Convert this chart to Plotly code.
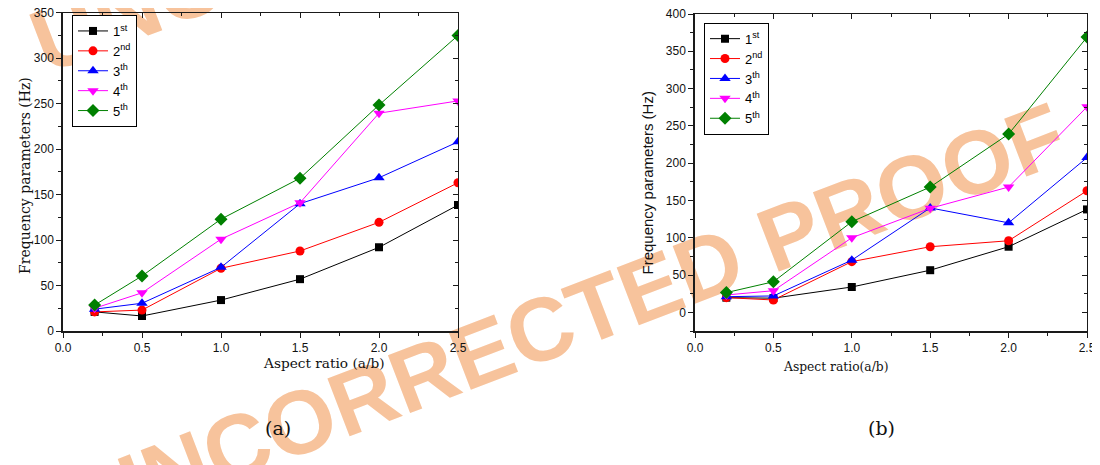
import plotly.graph_objects as go

# ---------------- data ----------------
aspect = [0.2, 0.5, 1.0, 1.5, 2.0, 2.5]
mode_labels = ["1<sup>st</sup>", "2<sup>nd</sup>", "3<sup>th</sup>", "4<sup>th</sup>", "5<sup>th</sup>"]

a_1st = [21, 16.5, 34, 57, 92, 138.5]
a_2nd = [21, 23, 69, 88, 119.5, 163]
a_3rd = [24, 30.5, 70, 140, 168.5, 208]
a_4th = [25, 42, 101, 141, 239.5, 253]
a_5th = [28.5, 60.5, 123, 168, 248.5, 325]

b_1st = [19.7, 19, 34, 56.5, 88, 138]
b_2nd = [19.7, 16.6, 68, 88, 96, 163]
b_3rd = [21, 22, 70, 140, 120, 207.5]
b_4th = [23.3, 29, 100, 139.5, 168, 275.5]
b_5th = [26.5, 41, 121.5, 168, 239, 369]

x_ticks = [0.0, 0.5, 1.0, 1.5, 2.0, 2.5]

# ---------------- styles ----------------
colors = ["#000000", "#FF0000", "#0000FF", "#FF00FF", "#008000"]
symbols = ["square", "circle", "triangle-up", "triangle-down", "diamond"]
sizes = [8, 9, 10, 10, 10]

W, H = 1100, 465
OFF = 8  # page body margin offset of the rendered figure

def px(x):
    return (x - OFF) / W
def py(y):
    return 1 - (y - OFF) / H

fig = go.Figure()

panels = [
    dict(series=[a_1st, a_2nd, a_3rd, a_4th, a_5th], xa="x", ya="y", lg="legend"),
    dict(series=[b_1st, b_2nd, b_3rd, b_4th, b_5th], xa="x2", ya="y2", lg="legend2"),
]
for p in panels:
    for i, s in enumerate(p["series"]):
        fig.add_trace(go.Scatter(
            x=aspect, y=s, mode="lines+markers", name=mode_labels[i],
            line=dict(color=colors[i], width=1),
            marker=dict(symbol=symbols[i], size=sizes[i], color=colors[i]),
            xaxis=p["xa"], yaxis=p["ya"], legend=p["lg"],
        ))

# hidden traces to carry the mirrored (top/right) axes
fig.add_trace(go.Scatter(x=[None], y=[None], xaxis="x3", yaxis="y3", showlegend=False, hoverinfo="skip"))
fig.add_trace(go.Scatter(x=[None], y=[None], xaxis="x4", yaxis="y4", showlegend=False, hoverinfo="skip"))

AX = "#1a1a1a"
tickfont = dict(family="Liberation Sans, Arial, sans-serif", size=12, color="#111")

def xax(domain, anchor, ticks="outside", side="bottom", labels=True, overlay=None):
    d = dict(range=[0, 2.5], tickmode="array", tickvals=x_ticks, ticktext=[f"{v:.1f}" for v in x_ticks],
             ticks=ticks, ticklen=5, tickwidth=1, tickcolor=AX,
             minor=dict(dtick=0.25, tick0=0, ticks=ticks, ticklen=3, tickcolor=AX),
             showline=True, linecolor=AX, linewidth=1.5 if labels else 1.1,
             showgrid=False, zeroline=False, ticklabeloverflow="allow",
             showticklabels=labels, tickfont=tickfont, anchor=anchor, side=side, fixedrange=True)
    if overlay:
        d["overlaying"] = overlay
    else:
        d["domain"] = domain
    return d

def yax(rng, domain, anchor, ticks="outside", side="left", labels=True, overlay=None):
    d = dict(range=rng, tick0=0, dtick=50,
             ticks=ticks, ticklen=5, tickwidth=1, tickcolor=AX,
             minor=dict(dtick=25, tick0=0, ticks=ticks, ticklen=3, tickcolor=AX),
             showline=True, linecolor=AX, linewidth=1.5 if labels else 1.1,
             showgrid=False, zeroline=False, ticklabeloverflow="allow",
             showticklabels=labels, tickfont=tickfont, anchor=anchor, side=side, fixedrange=True)
    if overlay:
        d["overlaying"] = overlay
    else:
        d["domain"] = domain
    return d

xa_dom = [px(63), px(458)]
ya_dom = [py(331), py(12.7)]
xb_dom = [px(695), px(1087)]
yb_dom = [py(331), py(14)]

legend_common = dict(xref="paper", yref="paper", xanchor="left", yanchor="top",
                     bordercolor="black", borderwidth=1, bgcolor="white",
                     font=dict(family="Liberation Sans, Arial, sans-serif", size=13, color="black"),
                     itemwidth=30, tracegroupgap=0)

serif = "DejaVu Serif, Liberation Serif, serif"
sans = "Liberation Sans, Arial, sans-serif"

annotations = [
    dict(text="Frequency parameters (Hz)", x=px(15), y=py(176), xref="paper", yref="paper",
         textangle=-90, showarrow=False, font=dict(family=serif, size=14, color="#111")),
    dict(text="Aspect ratio (a/b)", x=px(260.5), y=py(373), xref="paper", yref="paper",
         showarrow=False, font=dict(family=serif, size=13.7, color="#111")),
    dict(text="Frequency parameters (Hz)", x=px(647), y=py(183.5), xref="paper", yref="paper",
         textangle=-90, showarrow=False, font=dict(family=sans, size=15, color="#111")),
    dict(text="Aspect ratio(a/b)", x=px(890.5), y=py(375.5), xref="paper", yref="paper",
         showarrow=False, font=dict(family=serif, size=12.3, color="#111")),
    dict(text="(a)", x=px(263), y=py(441), xref="paper", yref="paper",
         showarrow=False, font=dict(family=serif, size=19, color="#111")),
    dict(text="(b)", x=px(897), y=py(441), xref="paper", yref="paper",
         showarrow=False, font=dict(family=serif, size=19, color="#111")),
]

wm_font = dict(family="Liberation Sans, Arial, sans-serif", size=90, color="#F7C39C", weight="bold")
def wm_shape(cx, cy):
    return dict(type="rect", xref="paper", yref="paper",
                x0=px(cx) - 0.001, x1=px(cx) + 0.001, y0=py(cy) - 0.001, y1=py(cy) + 0.001,
                line=dict(width=0), fillcolor="rgba(0,0,0,0)", layer="below",
                label=dict(text="UNCORRECTED PROOF", textangle=-21, font=wm_font,
                           textposition="middle center"))

fig.update_layout(
    width=W, height=H, margin=dict(l=0, r=0, t=0, b=0, autoexpand=False),
    paper_bgcolor="white", plot_bgcolor="rgba(0,0,0,0)",
    showlegend=True,
    xaxis=xax(xa_dom, "y"),
    yaxis=yax([0, 350], ya_dom, "x"),
    xaxis2=xax(xb_dom, "y2"),
    yaxis2=yax([-25, 400], yb_dom, "x2"),
    xaxis3=xax(None, "y", ticks="inside", side="top", labels=False, overlay="x"),
    yaxis3=yax([0, 350], None, "x", ticks="inside", side="right", labels=False, overlay="y"),
    xaxis4=xax(None, "y2", ticks="inside", side="top", labels=False, overlay="x2"),
    yaxis4=yax([-25, 400], None, "x2", ticks="inside", side="right", labels=False, overlay="y2"),
    legend=dict(x=px(72), y=py(15), **legend_common),
    legend2=dict(x=px(704), y=py(22.7), **legend_common),
    annotations=annotations,
    shapes=[wm_shape(570, 309), wm_shape(520, -150)],
)

fig.write_html("out.html")
